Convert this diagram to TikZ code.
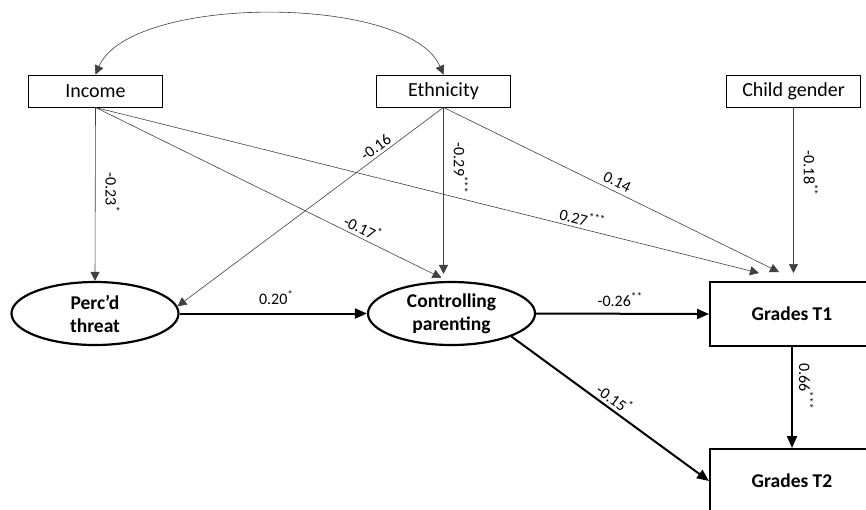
\documentclass[tikz,border=0pt]{standalone}
\usepackage{fontspec}
\setmainfont{Carlito}
\usetikzlibrary{arrows.meta,shapes.geometric,calc}
\begin{document}
\begin{tikzpicture}[x=1pt,y=-1pt,
  obs/.style={draw, line width=0.9pt, minimum width=134pt, minimum height=32pt, inner sep=0pt, font=\fontsize{20}{24}\selectfont},
  lat/.style={ellipse, draw, line width=2.2pt, minimum width=167pt, minimum height=63pt, inner sep=0pt, align=center, font=\fontsize{19.5}{23}\selectfont\bfseries},
  outc/.style={draw, line width=2pt, minimum width=164pt, minimum height=64pt, inner sep=0pt, font=\fontsize{19.5}{23}\selectfont\bfseries},
  thinarr/.style={draw=black!75, line width=0.6pt, -{Triangle[length=9pt,width=9pt]}},
  thickarr/.style={draw=black, line width=2pt, -{Triangle[length=12pt,width=10pt]}},
  lbl/.style={font=\fontsize{16}{16}\selectfont, inner sep=3pt, text=black},
  vlbl/.style={lbl, rotate=-90, anchor=south, inner sep=10pt},
]
\useasboundingbox (0,0) rectangle (866,509);
\clip (0,0) rectangle (866,509);

\node[obs] (inc) at (95.5,91) {Income};
\node[obs] (eth) at (443.5,91) {Ethnicity};
\node[obs] (cg) at (793.5,91) {Child gender};
\node[lat] (perc) at (95,313.5) {Perc’d\\threat};
\node[lat] (ctrl) at (451.5,313.5) {Controlling\\parenting};
\node[outc] (t1) at (792,314) {Grades T1};
\node[outc] (t2) at (792,481) {Grades T2};

\coordinate (incT1) at ($(t1.north west)+(50,-8)$);
\coordinate (ethT1) at ($(t1.north west)+(70,-9)$);
\coordinate (incCtrl) at ($(ctrl.north)+(-10,-3)$);

% covariance
\draw[draw=black!75, line width=0.6pt, {Triangle[length=9pt,width=9pt]}-{Triangle[length=9pt,width=9pt]}]
  (inc.north) .. controls (130,-6) and (409,-6) .. (eth.north);

% thin paths
\draw[thinarr] (inc.south) -- (perc.north)
  node[vlbl, pos=.49] {-0.23\textsuperscript{*}};
\draw[thinarr] (eth.south) -- (perc.5)
  node[lbl, pos=.235, sloped, above] {-0.16};
\draw[thinarr] (inc.south) -- (incCtrl)
  node[lbl, pos=.76, sloped, above] {-0.17\textsuperscript{*}};
\draw[thinarr, shorten >=7pt] (eth.south) -- (eth.south |- ctrl.north)
  node[vlbl, pos=.35] {-0.29\textsuperscript{***}};
\draw[thinarr] (inc.south) -- (incT1)
  node[lbl, pos=.73, sloped, above] {0.27\textsuperscript{***}};
\draw[thinarr] (eth.south) -- (ethT1)
  node[lbl, pos=.505, sloped, above, yshift=1pt] {0.14};
\draw[thinarr, shorten >=8pt] (cg.south) -- (cg.south |- t1.north)
  node[vlbl, pos=.38] {-0.18\textsuperscript{**}};

% thick paths
\draw[thickarr] (perc.east) -- (ctrl.west)
  node[lbl, pos=.516, above, yshift=5pt] {0.20\textsuperscript{*}};
\draw[thickarr] (ctrl.east) -- (t1.west)
  node[lbl, pos=.486, above, yshift=3pt] {-0.26\textsuperscript{**}};
\draw[thickarr] (ctrl.-21) -- (t2.west)
  node[lbl, pos=.49, sloped, above] {-0.15\textsuperscript{*}};
\draw[thickarr] (t1.south) -- (t2.north)
  node[vlbl, pos=.39, inner sep=6pt] {0.66\textsuperscript{***}};
\end{tikzpicture}
\end{document}
